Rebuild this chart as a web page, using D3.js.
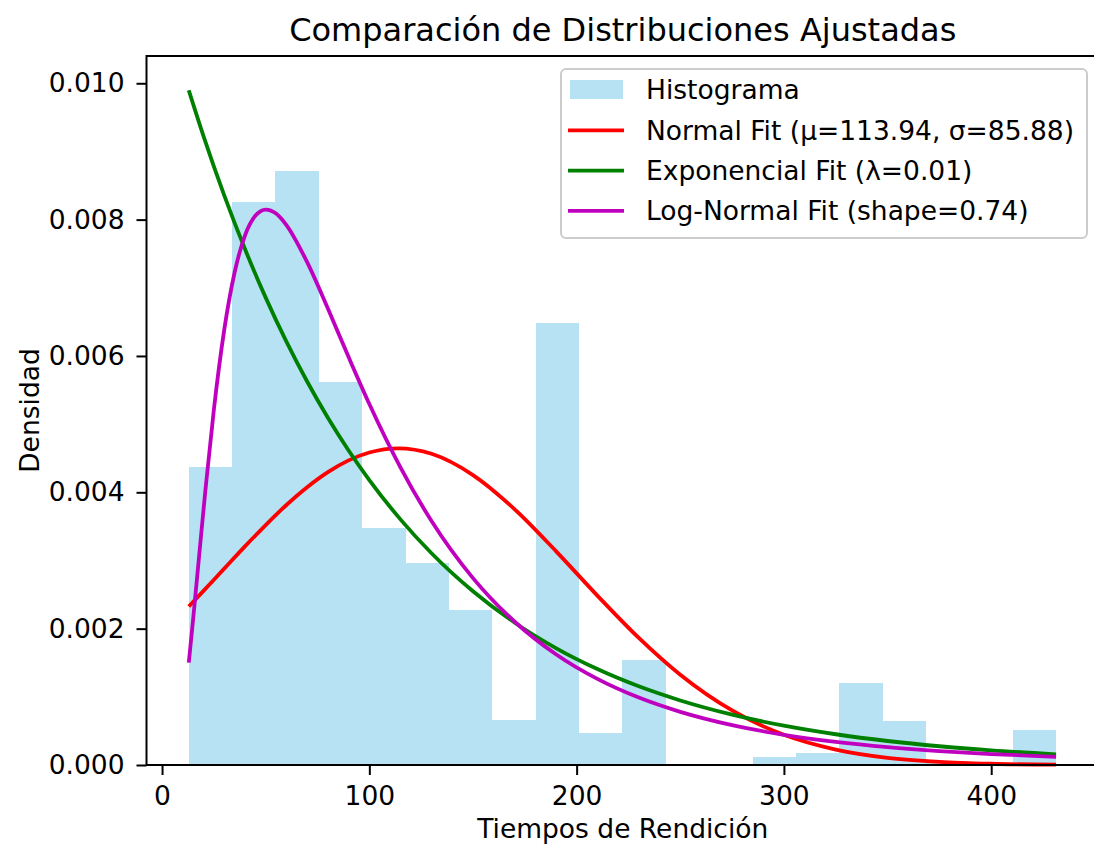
<!DOCTYPE html>
<html>
<head>
<meta charset="utf-8">
<script src="https://cdn.jsdelivr.net/npm/d3@7"></script>
<style>
  body { margin: 0; background: #fff; }
  svg text { font-family: "DejaVu Sans", sans-serif; fill: #000; }
</style>
</head>
<body>
<div id="chart-holder"></div>
<script>
// values
var binEdges = [12.9, 33.8, 54.7, 75.7, 96.6, 117.5, 138.4, 159.3, 180.3, 201.2, 222.1,
                243.0, 263.9, 284.9, 305.8, 326.7, 347.6, 368.5, 389.5, 410.4, 431.3];
var histDensity = [0.00437, 0.00826, 0.00871, 0.00562, 0.00348, 0.00296, 0.00227, 0.00066, 0.00649, 0.00047,
                   0.00154, 0, 0, 0.00012, 0.00017, 0.00120, 0.00065, 0.00006, 0, 0.00052];

var normalX = [12.9, 20, 30, 40, 50, 60, 70, 80, 90, 100, 113.94, 130, 150, 170, 190, 210, 230, 250, 275, 300, 325, 350, 375, 400, 431.3];
var normalY = [0.002325, 0.002554, 0.002881, 0.003207, 0.003520, 0.003814, 0.004075, 0.004296, 0.004468, 0.004584,
               0.004645, 0.004565, 0.004253, 0.003754, 0.003138, 0.002485, 0.001864, 0.001324, 0.000800, 0.000444,
               0.000227, 0.000106, 0.000046, 0.000018, 0.000005];

var expX = [12.9, 20, 30, 40, 50, 60, 70, 80, 90, 100, 115, 130, 150, 170, 190, 210, 230, 250, 275, 300, 325, 350, 375, 400, 431.3];
var expY = [0.009897, 0.009225, 0.008356, 0.007569, 0.006856, 0.006210, 0.005625, 0.005094, 0.004614, 0.004180,
            0.003603, 0.003106, 0.002548, 0.002090, 0.001715, 0.001407, 0.001154, 0.000947, 0.000739, 0.000577,
            0.000451, 0.000352, 0.000275, 0.000215, 0.000157];

var lognormX = [12.9, 15, 18, 21, 25, 30, 35, 40, 45, 50, 55, 60, 70, 80, 90, 100, 115, 130, 150, 170,
                190, 210, 230, 250, 275, 300, 325, 350, 375, 400, 431.3];
var lognormY = [0.001501, 0.002139, 0.003105, 0.004058, 0.005213, 0.006383, 0.007224, 0.007766, 0.008056, 0.008148,
                0.008089, 0.007920, 0.007376, 0.006696, 0.005984, 0.005296, 0.004367, 0.003579, 0.002741, 0.002105,
                0.001625, 0.001263, 0.000989, 0.000780, 0.000585, 0.000443, 0.000340, 0.000263, 0.000205, 0.000161,
                0.000120];

var xTicks = [0, 100, 200, 300, 400];
var yTicks = [0, 0.002, 0.004, 0.006, 0.008, 0.010];
var legendLabels = ["Histograma", "Normal Fit (μ=113.94, σ=85.88)", "Exponencial Fit (λ=0.01)", "Log-Normal Fit (shape=0.74)"];
var lineColors = ["#ff0000", "#008000", "#bf00bf"];

// page + axes box
var width = 1094,
    height = 850,
    axLeft = 146.5,
    axRight = 1099,
    axTop = 56,
    axBottom = 765,
    fontSize = 26.5;

var svg = d3
.select("#chart-holder")
.append("svg")
.attr("width", width)
.attr("height", height);

var x = d3.scaleLinear()
    .domain([-7.5, 452])
    .range([axLeft, axRight]);

var y = d3.scaleLinear()
    .domain([0, 0.0104])
    .range([axBottom, axTop]);

// histogram bars
var bins = histDensity.map(function (d, i) {
  return {x0: binEdges[i], x1: binEdges[i + 1], value: d};
});

svg.append("g")
.attr("class", "bars")
.attr("shape-rendering", "crispEdges")
.selectAll("rect")
.data(bins.filter(function (b) { return b.value > 0; }))
.enter()
.append("rect")
.attr("x", function (b) { return x(b.x0); })
.attr("width", function (b) { return x(b.x1) - x(b.x0); })
.attr("y", function (b) { return y(b.value); })
.attr("height", function (b) { return y(0) - y(b.value); })
.attr("fill", "skyblue")
.attr("fill-opacity", 0.6);

// fitted curves
var line = d3.line()
    .x(function (d) { return x(d[0]); })
    .y(function (d) { return y(d[1]); })
    .curve(d3.curveMonotoneX);

var curves = [
  d3.zip(normalX, normalY),
  d3.zip(expX, expY),
  d3.zip(lognormX, lognormY)
];

svg.append("g")
.attr("class", "curves")
.selectAll("path")
.data(curves)
.enter()
.append("path")
.attr("d", line)
.attr("fill", "none")
.attr("stroke", function (d, i) { return lineColors[i]; })
.attr("stroke-width", 3.8)
.attr("stroke-linejoin", "round");

// axes
var xAxis = svg.append("g")
.attr("transform", "translate(0," + axBottom + ")")
.call(d3.axisBottom(x).tickValues(xTicks).tickSize(10).tickSizeOuter(0).tickPadding(11));

var yAxis = svg.append("g")
.attr("transform", "translate(" + axLeft + ",0)")
.call(d3.axisLeft(y).tickValues(yTicks).tickFormat(d3.format(".3f")).tickSize(10).tickSizeOuter(0).tickPadding(12));

[xAxis, yAxis].forEach(function (g) {
  g.attr("font-family", "DejaVu Sans").attr("font-size", fontSize);
  g.select(".domain").remove();
  g.selectAll(".tick line").attr("stroke", "#000").attr("stroke-width", 2);
});

// spines
svg.append("rect")
.attr("x", axLeft)
.attr("y", axTop)
.attr("width", axRight - axLeft)
.attr("height", axBottom - axTop)
.attr("fill", "none")
.attr("stroke", "#000")
.attr("stroke-width", 2);

// titles
svg.append("text")
.attr("x", (axLeft + axRight) / 2)
.attr("y", 41)
.attr("text-anchor", "middle")
.attr("font-size", 32)
.text("Comparación de Distribuciones Ajustadas");

svg.append("text")
.attr("x", (axLeft + axRight) / 2)
.attr("y", 838)
.attr("text-anchor", "middle")
.attr("font-size", fontSize)
.text("Tiempos de Rendición");

svg.append("text")
.attr("transform", "translate(39," + (axTop + axBottom) / 2 + ")rotate(-90)")
.attr("text-anchor", "middle")
.attr("font-size", fontSize)
.text("Densidad");

// legend
var legend = svg.append("g").attr("class", "legend");

legend.append("rect")
.attr("x", 561)
.attr("y", 69)
.attr("width", 526)
.attr("height", 169)
.attr("rx", 5)
.attr("fill", "#fff")
.attr("fill-opacity", 0.8)
.attr("stroke", "#cccccc")
.attr("stroke-width", 2);

var rows = legend.selectAll("g.row")
.data(legendLabels)
.enter()
.append("g")
.attr("class", "row")
.attr("transform", function (d, i) { return "translate(0," + (90 + i * 40.3) + ")"; });

rows.each(function (d, i) {
  var row = d3.select(this);
  if (i === 0) {
    row.append("rect")
    .attr("x", 570)
    .attr("y", -10)
    .attr("width", 53)
    .attr("height", 19)
    .attr("fill", "skyblue")
    .attr("fill-opacity", 0.6);
  } else {
    row.append("line")
    .attr("x1", 568)
    .attr("x2", 624)
    .attr("stroke", lineColors[i - 1])
    .attr("stroke-width", 3.8);
  }
  row.append("text")
  .attr("x", 646)
  .attr("dy", "0.35em")
  .attr("font-size", fontSize)
  .text(d);
});
</script>
</body>
</html>
